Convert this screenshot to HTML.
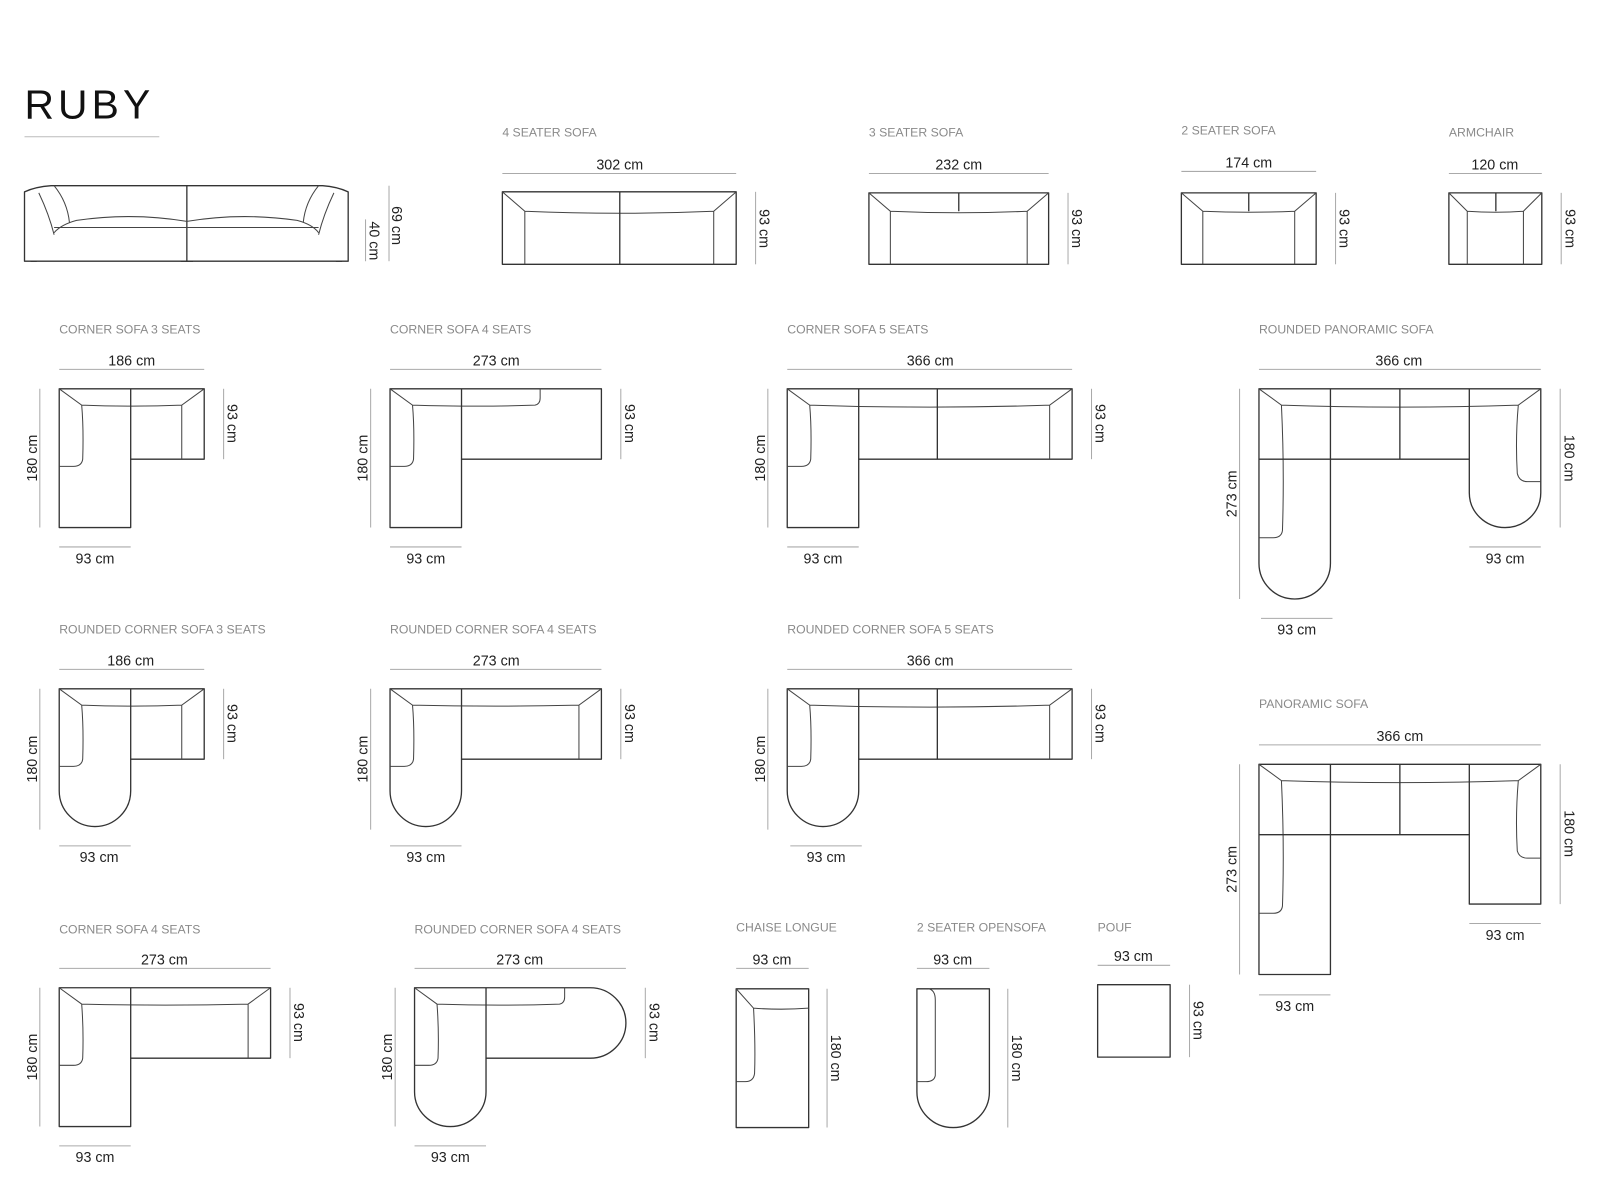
<!DOCTYPE html>
<html><head><meta charset="utf-8"><style>
html,body{margin:0;padding:0;background:#fff;width:1600px;height:1200px;overflow:hidden}
svg{display:block}
.o{fill:none;stroke:#333;stroke-width:1.3;stroke-linejoin:round}
.i{fill:none;stroke:#444;stroke-width:1}
.d{stroke:#aaa;stroke-width:1;fill:none}
.l{font-family:"Liberation Sans",sans-serif;font-size:12px;fill:#8a8a8a}
.t{font-family:"Liberation Sans",sans-serif;font-size:14px;fill:#222;text-anchor:middle}
</style></head><body>
<svg width="1600" height="1200" viewBox="0 0 1567 1176" preserveAspectRatio="none" xmlns="http://www.w3.org/2000/svg">
<text x="24" y="116" font-family="Liberation Sans, sans-serif" font-size="40" letter-spacing="4" fill="#111">RUBY</text>
<line x1="24" y1="134" x2="156" y2="134" stroke="#bbb" stroke-width="1"/>

<!-- front view -->
<path class="o" d="M24,188 Q35,183 50,182 L316,182 Q330,183 341,188 L341,256 L24,256 Z"/>
<line class="o" x1="183" y1="182" x2="183" y2="256"/>
<path class="i" d="M38,189 Q48,210 53,230 M53,182 Q66,198 68,218 M53,228 Q60,220 75,216 Q130,208 183,217 Q236,208 291,216 Q306,220 312,228 M53,223 L312,223 M327,189 Q317,210 312,230 M312,182 Q299,198 297,218"/>
<path class="o" d="M30,256 h6 M177,256 h12 M329,256 h6"/>
<line class="d" x1="381" y1="182" x2="381" y2="256"/><line class="d" x1="358" y1="215" x2="358" y2="256"/>
<text class="t" transform="translate(384,221) rotate(90)">69 cm</text>
<text class="t" transform="translate(362,236) rotate(90)">40 cm</text>

<!-- 4 seater -->
<text class="l" x="492" y="134">4 SEATER SOFA</text>
<line class="d" x1="492" y1="170" x2="721" y2="170"/><text class="t" x="607" y="166">302 cm</text>
<rect class="o" x="492" y="188" width="229" height="71"/>
<path class="i" d="M492,188 L514,207 Q607,211 699,207 L721,188 M514,207 L514,259 M699,207 L699,259"/>
<line class="o" x1="607" y1="188" x2="607" y2="259"/>
<line class="d" x1="740" y1="188" x2="740" y2="259"/><text class="t" transform="translate(744,224) rotate(90)">93 cm</text>

<!-- 3 seater -->
<text class="l" x="851" y="134">3 SEATER SOFA</text>
<line class="d" x1="851" y1="170" x2="1027" y2="170"/><text class="t" x="939" y="166">232 cm</text>
<rect class="o" x="851" y="189" width="176" height="70"/>
<path class="i" d="M851,189 L872,207 Q939,210 1006,207 L1027,189 M872,207 L872,259 M1006,207 L1006,259"/>
<line class="o" x1="939" y1="189" x2="939" y2="207"/>
<line class="d" x1="1046" y1="189" x2="1046" y2="259"/><text class="t" transform="translate(1050,224) rotate(90)">93 cm</text>

<!-- 2 seater -->
<text class="l" x="1157" y="132">2 SEATER SOFA</text>
<line class="d" x1="1157" y1="168" x2="1289" y2="168"/><text class="t" x="1223" y="164">174 cm</text>
<rect class="o" x="1157" y="189" width="132" height="70"/>
<path class="i" d="M1157,189 L1178,207 Q1223,209 1268,207 L1289,189 M1178,207 L1178,259 M1268,207 L1268,259"/>
<line class="o" x1="1223" y1="189" x2="1223" y2="207"/>
<line class="d" x1="1308" y1="189" x2="1308" y2="259"/><text class="t" transform="translate(1312,224) rotate(90)">93 cm</text>

<!-- armchair -->
<text class="l" x="1419" y="134">ARMCHAIR</text>
<line class="d" x1="1419" y1="170" x2="1510" y2="170"/><text class="t" x="1464" y="166">120 cm</text>
<rect class="o" x="1419" y="189" width="91" height="70"/>
<path class="i" d="M1419,189 L1437,207 Q1465,209 1492,207 L1510,189 M1437,207 L1437,259 M1492,207 L1492,259"/>
<line class="o" x1="1465" y1="189" x2="1465" y2="207"/>
<line class="d" x1="1529" y1="189" x2="1529" y2="259"/><text class="t" transform="translate(1533,224) rotate(90)">93 cm</text>

<!-- corner sofa 3 -->
<text class="l" x="58" y="327">CORNER SOFA 3 SEATS</text>
<line class="d" x1="58" y1="362" x2="200" y2="362"/><text class="t" x="129" y="358">186 cm</text>
<path class="o" d="M58,381 H200 V450 H128 V517 H58 Z"/>
<path class="i" d="M58,381 L80,397 Q130,399 178,397 L200,381 M178,397 V450 M80,397 Q82,420 81,450 Q80,457 72,457 H58"/>
<line class="o" x1="128" y1="381" x2="128" y2="450"/>
<line class="d" x1="39" y1="381" x2="39" y2="517"/><text class="t" transform="translate(36,449) rotate(-90)">180 cm</text>
<line class="d" x1="219" y1="381" x2="219" y2="450"/><text class="t" transform="translate(223,415) rotate(90)">93 cm</text>
<line class="d" x1="58" y1="536" x2="128" y2="536"/><text class="t" x="93" y="552">93 cm</text>

<!-- corner sofa 4 -->
<text class="l" x="382" y="327">CORNER SOFA 4 SEATS</text>
<line class="d" x1="382" y1="362" x2="589" y2="362"/><text class="t" x="486" y="358">273 cm</text>
<path class="o" d="M382,381 H589 V450 H452 V517 H382 Z"/>
<path class="i" d="M382,381 L404,397 Q470,399 524,397 Q529,396 529,390 V381 M404,397 Q406,420 405,450 Q404,457 396,457 H382"/>
<line class="o" x1="452" y1="381" x2="452" y2="450"/>
<line class="d" x1="363" y1="381" x2="363" y2="517"/><text class="t" transform="translate(360,449) rotate(-90)">180 cm</text>
<line class="d" x1="608" y1="381" x2="608" y2="450"/><text class="t" transform="translate(612,415) rotate(90)">93 cm</text>
<line class="d" x1="382" y1="536" x2="452" y2="536"/><text class="t" x="417" y="552">93 cm</text>

<!-- corner sofa 5 -->
<text class="l" x="771" y="327">CORNER SOFA 5 SEATS</text>
<line class="d" x1="771" y1="362" x2="1050" y2="362"/><text class="t" x="911" y="358">366 cm</text>
<path class="o" d="M771,381 H1050 V450 H841 V517 H771 Z"/>
<path class="i" d="M771,381 L793,397 Q911,401 1028,397 L1050,381 M1028,397 V450 M793,397 Q795,420 794,450 Q793,457 785,457 H771"/>
<path class="o" d="M841,381 V450 M918,381 V450"/>
<line class="d" x1="752" y1="381" x2="752" y2="517"/><text class="t" transform="translate(749,449) rotate(-90)">180 cm</text>
<line class="d" x1="1069" y1="381" x2="1069" y2="450"/><text class="t" transform="translate(1073,415) rotate(90)">93 cm</text>
<line class="d" x1="771" y1="536" x2="841" y2="536"/><text class="t" x="806" y="552">93 cm</text>

<!-- rounded panoramic -->
<text class="l" x="1233" y="327">ROUNDED PANORAMIC SOFA</text>
<line class="d" x1="1233" y1="362" x2="1509" y2="362"/><text class="t" x="1370" y="358">366 cm</text>
<path class="o" d="M1233,381 H1509 V483 A35,34 0 0 1 1439,483 V450 H1303 V552 A35,35 0 0 1 1233,552 Z"/>
<path class="i" d="M1233,381 L1255,397 Q1371,401 1487,397 L1509,381 M1255,397 Q1258,460 1256,520 Q1255,527 1247,527 H1233 M1487,397 Q1484,430 1486,464 Q1488,472 1496,472 H1509"/>
<path class="o" d="M1303,381 V450 M1371,381 V450 M1439,381 V450 M1233,450 H1303"/>
<line class="d" x1="1214" y1="381" x2="1214" y2="587"/><text class="t" transform="translate(1211,484) rotate(-90)">273 cm</text>
<line class="d" x1="1528" y1="381" x2="1528" y2="517"/><text class="t" transform="translate(1532,449) rotate(90)">180 cm</text>
<line class="d" x1="1439" y1="536" x2="1509" y2="536"/><text class="t" x="1474" y="552">93 cm</text>
<line class="d" x1="1235" y1="606" x2="1305" y2="606"/><text class="t" x="1270" y="622">93 cm</text>

<!-- rounded corner 3 -->
<text class="l" x="58" y="621">ROUNDED CORNER SOFA 3 SEATS</text>
<line class="d" x1="58" y1="656" x2="200" y2="656"/><text class="t" x="128" y="652">186 cm</text>
<path class="o" d="M58,675 H200 V744 H128 V775 A35,35 0 0 1 58,775 Z"/>
<path class="i" d="M58,675 L80,691 Q130,693 178,691 L200,675 M178,691 V744 M80,691 Q82,714 81,744 Q80,751 72,751 H58"/>
<line class="o" x1="128" y1="675" x2="128" y2="744"/>
<line class="d" x1="39" y1="675" x2="39" y2="813"/><text class="t" transform="translate(36,744) rotate(-90)">180 cm</text>
<line class="d" x1="219" y1="675" x2="219" y2="744"/><text class="t" transform="translate(223,709) rotate(90)">93 cm</text>
<line class="d" x1="58" y1="829" x2="128" y2="829"/><text class="t" x="97" y="845">93 cm</text>

<!-- rounded corner 4 -->
<text class="l" x="382" y="621">ROUNDED CORNER SOFA 4 SEATS</text>
<line class="d" x1="382" y1="656" x2="589" y2="656"/><text class="t" x="486" y="652">273 cm</text>
<path class="o" d="M382,675 H589 V744 H452 V775 A35,35 0 0 1 382,775 Z"/>
<path class="i" d="M382,675 L404,691 Q486,693 567,691 L589,675 M567,691 V744 M404,691 Q406,714 405,744 Q404,751 396,751 H382"/>
<line class="o" x1="452" y1="675" x2="452" y2="744"/>
<line class="d" x1="363" y1="675" x2="363" y2="813"/><text class="t" transform="translate(360,744) rotate(-90)">180 cm</text>
<line class="d" x1="608" y1="675" x2="608" y2="744"/><text class="t" transform="translate(612,709) rotate(90)">93 cm</text>
<line class="d" x1="382" y1="829" x2="452" y2="829"/><text class="t" x="417" y="845">93 cm</text>

<!-- rounded corner 5 -->
<text class="l" x="771" y="621">ROUNDED CORNER SOFA 5 SEATS</text>
<line class="d" x1="771" y1="656" x2="1050" y2="656"/><text class="t" x="911" y="652">366 cm</text>
<path class="o" d="M771,675 H1050 V744 H841 V775 A35,35 0 0 1 771,775 Z"/>
<path class="i" d="M771,675 L793,691 Q911,695 1028,691 L1050,675 M1028,691 V744 M793,691 Q795,714 794,744 Q793,751 785,751 H771"/>
<path class="o" d="M841,675 V744 M918,675 V744"/>
<line class="d" x1="752" y1="675" x2="752" y2="813"/><text class="t" transform="translate(749,744) rotate(-90)">180 cm</text>
<line class="d" x1="1069" y1="675" x2="1069" y2="744"/><text class="t" transform="translate(1073,709) rotate(90)">93 cm</text>
<line class="d" x1="774" y1="829" x2="844" y2="829"/><text class="t" x="809" y="845">93 cm</text>

<!-- panoramic -->
<text class="l" x="1233" y="694">PANORAMIC SOFA</text>
<line class="d" x1="1233" y1="730" x2="1509" y2="730"/><text class="t" x="1371" y="726">366 cm</text>
<path class="o" d="M1233,749 H1509 V886 H1439 V818 H1303 V955 H1233 Z"/>
<path class="i" d="M1233,749 L1255,765 Q1371,769 1487,765 L1509,749 M1255,765 Q1258,830 1256,888 Q1255,895 1247,895 H1233 M1487,765 Q1484,800 1486,834 Q1488,841 1496,841 H1509"/>
<path class="o" d="M1303,749 V818 M1371,749 V818 M1439,749 V818 M1233,818 H1303"/>
<line class="d" x1="1214" y1="749" x2="1214" y2="955"/><text class="t" transform="translate(1211,852) rotate(-90)">273 cm</text>
<line class="d" x1="1528" y1="749" x2="1528" y2="886"/><text class="t" transform="translate(1532,817) rotate(90)">180 cm</text>
<line class="d" x1="1439" y1="905" x2="1509" y2="905"/><text class="t" x="1474" y="921">93 cm</text>
<line class="d" x1="1233" y1="975" x2="1303" y2="975"/><text class="t" x="1268" y="991">93 cm</text>

<!-- corner sofa 4 bottom -->
<text class="l" x="58" y="915">CORNER SOFA 4 SEATS</text>
<line class="d" x1="58" y1="949" x2="265" y2="949"/><text class="t" x="161" y="945">273 cm</text>
<path class="o" d="M58,968 H265 V1037 H128 V1104 H58 Z"/>
<path class="i" d="M58,968 L80,984 Q162,986 243,984 L265,968 M243,984 V1037 M80,984 Q82,1010 81,1037 Q80,1044 72,1044 H58"/>
<line class="o" x1="128" y1="968" x2="128" y2="1037"/>
<line class="d" x1="39" y1="968" x2="39" y2="1104"/><text class="t" transform="translate(36,1036) rotate(-90)">180 cm</text>
<line class="d" x1="284" y1="968" x2="284" y2="1037"/><text class="t" transform="translate(288,1002) rotate(90)">93 cm</text>
<line class="d" x1="58" y1="1123" x2="128" y2="1123"/><text class="t" x="93" y="1139">93 cm</text>

<!-- rounded corner sofa 4 bottom -->
<text class="l" x="406" y="915">ROUNDED CORNER SOFA 4 SEATS</text>
<line class="d" x1="406" y1="949" x2="613" y2="949"/><text class="t" x="509" y="945">273 cm</text>
<path class="o" d="M406,968 H578 A35,34.5 0 0 1 578,1037 H476 V1070 A35,34 0 0 1 406,1070 Z"/>
<path class="i" d="M406,968 L428,984 Q490,986 548,984 Q553,983 553,977 V968 M428,984 Q430,1010 429,1037 Q428,1044 420,1044 H406"/>
<line class="o" x1="476" y1="968" x2="476" y2="1037"/>
<line class="d" x1="387" y1="968" x2="387" y2="1104"/><text class="t" transform="translate(384,1036) rotate(-90)">180 cm</text>
<line class="d" x1="632" y1="968" x2="632" y2="1037"/><text class="t" transform="translate(636,1002) rotate(90)">93 cm</text>
<line class="d" x1="406" y1="1123" x2="476" y2="1123"/><text class="t" x="441" y="1139">93 cm</text>

<!-- chaise longue -->
<text class="l" x="721" y="913">CHAISE LONGUE</text>
<line class="d" x1="721" y1="949" x2="792" y2="949"/><text class="t" x="756" y="945">93 cm</text>
<rect class="o" x="721" y="969" width="71" height="136"/>
<path class="i" d="M721,969 L738,988 Q765,990 792,988 M738,988 Q740,1025 739,1052 Q738,1060 730,1060 H721"/>
<line class="d" x1="810" y1="969" x2="810" y2="1105"/><text class="t" transform="translate(814,1037) rotate(90)">180 cm</text>

<!-- 2 seater opensofa -->
<text class="l" x="898" y="913">2 SEATER OPENSOFA</text>
<line class="d" x1="898" y1="949" x2="969" y2="949"/><text class="t" x="933" y="945">93 cm</text>
<path class="o" d="M898,969 H969 V1070 A35.5,35 0 0 1 898,1070 Z"/>
<path class="i" d="M909,969 Q916,970 916,980 V1054 Q915,1060 907,1060 H898"/>
<line class="d" x1="987" y1="969" x2="987" y2="1105"/><text class="t" transform="translate(991,1037) rotate(90)">180 cm</text>

<!-- pouf -->
<text class="l" x="1075" y="913">POUF</text>
<line class="d" x1="1075" y1="946" x2="1146" y2="946"/><text class="t" x="1110" y="942">93 cm</text>
<rect class="o" x="1075" y="965" width="71" height="71"/>
<line class="d" x1="1165" y1="965" x2="1165" y2="1036"/><text class="t" transform="translate(1169,1000) rotate(90)">93 cm</text>
</svg>
</body></html>
